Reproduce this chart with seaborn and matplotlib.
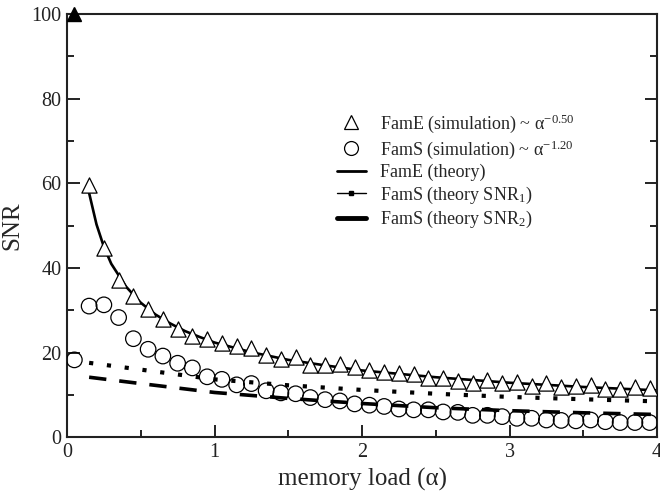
import numpy as np
import pandas as pd
import matplotlib
matplotlib.use('Agg')
import matplotlib.pyplot as plt
from matplotlib.lines import Line2D
from matplotlib.ticker import MultipleLocator
import seaborn as sns

# simulation points
tri_x = [0.15, 0.25, 0.35, 0.45, 0.55, 0.65, 0.75, 0.85, 0.95, 1.05, 1.15, 1.25, 1.35,
         1.45, 1.55, 1.65, 1.75, 1.85, 1.95, 2.05, 2.15, 2.25, 2.35, 2.45, 2.55, 2.65,
         2.75, 2.85, 2.95, 3.05, 3.15, 3.25, 3.35, 3.45, 3.55, 3.65, 3.75, 3.85, 3.95]
tri_y = [59.6, 44.7, 37.2, 33.4, 30.3, 27.9, 25.5, 24.0, 23.2, 22.2, 21.6, 21.0, 19.4,
         18.6, 18.9, 17.2, 17.2, 17.3, 16.7, 15.8, 15.5, 15.3, 15.0, 14.1, 14.1, 13.2,
         12.9, 13.6, 12.8, 13.1, 12.2, 12.9, 11.8, 12.2, 12.4, 11.4, 11.4, 11.8, 11.6]
tri_clip_x = [0.05]
tri_clip_y = [100]

circ_x = [0.05, 0.15, 0.25, 0.35, 0.45, 0.55, 0.65, 0.75, 0.85, 0.95, 1.05, 1.15, 1.25,
          1.35, 1.45, 1.55, 1.65, 1.75, 1.85, 1.95, 2.05, 2.15, 2.25, 2.35, 2.45, 2.55,
          2.65, 2.75, 2.85, 2.95, 3.05, 3.15, 3.25, 3.35, 3.45, 3.55, 3.65, 3.75, 3.85, 3.95]
circ_y = [18.3, 31.0, 31.3, 28.3, 23.3, 20.8, 19.2, 17.5, 16.4, 14.3, 13.7, 12.4, 12.7,
          11.0, 10.5, 10.3, 9.4, 8.9, 8.6, 7.9, 7.6, 7.3, 6.7, 6.5, 6.5, 6.0,
          5.9, 5.2, 5.2, 4.9, 4.5, 4.5, 4.1, 4.0, 3.9, 4.1, 3.7, 3.5, 3.5, 3.5]

# theory curves
famE_x = [0.15, 0.2, 0.25, 0.3, 0.4, 0.5, 0.6, 0.7, 0.8, 0.9, 1.0, 1.25, 1.5, 1.75,
          2.0, 2.5, 3.0, 3.5, 4.0]
famE_y = [57.7, 50.3, 45.0, 41.0, 35.6, 31.8, 29.0, 26.9, 25.1, 23.7, 22.4, 20.1, 18.3,
          17.0, 15.8, 14.2, 12.9, 11.9, 11.1]
famS_x = [0.15, 0.5, 1.0, 1.5, 2.0, 2.5, 3.0, 3.5, 4.0]
snr1_y = [17.6, 16.0, 13.7, 12.3, 11.2, 10.3, 9.55, 9.0, 8.5]
snr2_y = [14.2, 12.7, 10.6, 9.2, 8.0, 7.0, 6.3, 5.8, 5.4]

labels = [r'FamE (simulation) ~ α$^{\mathregular{-0.50}}$',
          r'FamS (simulation) ~ α$^{\mathregular{-1.20}}$',
          'FamE (theory)',
          r'FamS (theory SNR$_{\mathregular{1}}$)',
          r'FamS (theory SNR$_{\mathregular{2}}$)']

sns.set_style('ticks')
plt.rcParams['font.family'] = ['Liberation Serif', 'DejaVu Serif']
plt.rcParams['mathtext.fontset'] = 'stix'

fig, ax = plt.subplots(figsize=(6.6, 4.97), dpi=100)
fig.subplots_adjust(left=0.1015, right=0.9955, top=0.972, bottom=0.12)

sns.lineplot(x=famE_x, y=famE_y, ax=ax, color='black', lw=1.9, legend=False)
sns.lineplot(x=famS_x, y=snr1_y, ax=ax, color='black', lw=3.0,
             linestyle=(0, (1, 3.3)), legend=False)
sns.lineplot(x=famS_x, y=snr2_y, ax=ax, color='black', lw=2.6,
             linestyle=(0, (4.8, 3.6)), legend=False)
sns.scatterplot(x=tri_x, y=tri_y, ax=ax, marker='^', s=120, facecolor='white',
                edgecolor='black', linewidth=0.9, zorder=3)
sns.scatterplot(x=circ_x, y=circ_y, ax=ax, marker='o', s=125, facecolor='none',
                edgecolor='black', linewidth=0.9, zorder=3)
ax.plot(tri_clip_x, tri_clip_y, marker='^', ms=10, color='black', ls='none',
        clip_on=False, zorder=5)

ax.set_xlim(0, 4)
ax.set_ylim(0, 100)
ax.xaxis.set_major_locator(MultipleLocator(1))
ax.xaxis.set_minor_locator(MultipleLocator(0.5))
ax.yaxis.set_major_locator(MultipleLocator(20))
ax.yaxis.set_minor_locator(MultipleLocator(10))
ax.tick_params(which='both', direction='in', right=True, top=False, width=1.4,
               labelsize=14.5, colors='#222222', pad=4)
ax.tick_params(which='major', length=9)
ax.tick_params(which='minor', length=5)
for sp in ax.spines.values():
    sp.set_linewidth(1.5)
    sp.set_color('#222222')

ax.set_xlabel('memory load (α)', fontsize=18, labelpad=4)
ax.set_ylabel('SNR', fontsize=18, labelpad=6)

handles = [
    Line2D([], [], marker='^', ms=10, mfc='white', mec='black', mew=0.9, ls='none'),
    Line2D([], [], marker='o', ms=10, mfc='white', mec='black', mew=0.9, ls='none'),
    Line2D([], [], color='black', lw=2),
    Line2D([], [], color='black', lw=1, marker='s', ms=3),
    Line2D([], [], color='black', lw=3.5),
]
ax.legend(handles, labels, loc='upper left', bbox_to_anchor=(0.445, 0.785),
          frameon=False, fontsize=13, handlelength=1.6, handletextpad=0.8,
          labelspacing=0.18, borderaxespad=0)

fig.savefig('out.png', dpi=100)
